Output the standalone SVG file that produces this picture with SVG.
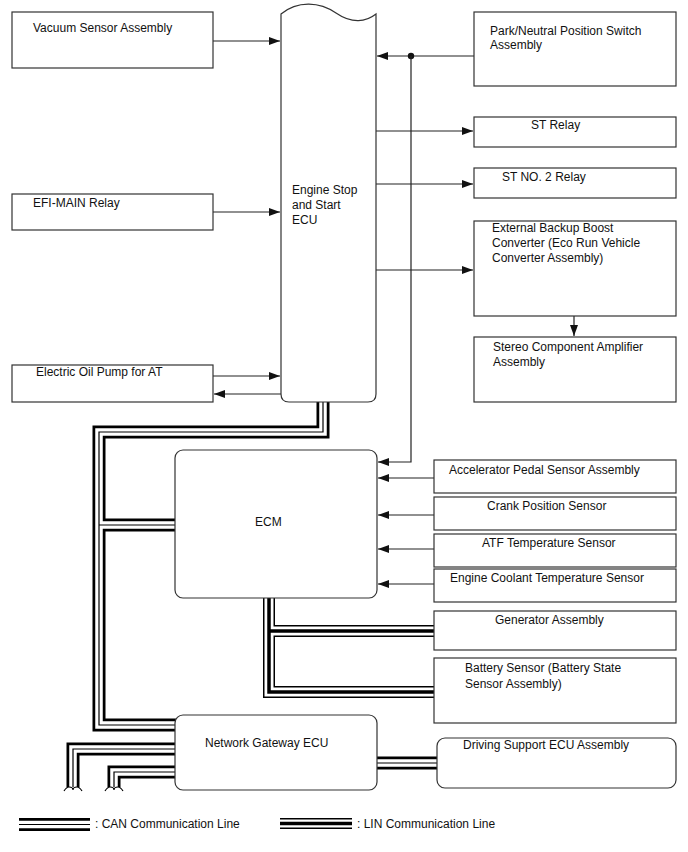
<svg xmlns="http://www.w3.org/2000/svg" width="688" height="852" viewBox="0 0 688 852">
<style>
text{font-family:"Liberation Sans",Arial,sans-serif;font-size:12px;fill:#111}
.box{fill:#fff;stroke:#333;stroke-width:1.2}
.ln{fill:none;stroke:#222;stroke-width:1.2}
.can-o{fill:none;stroke:#000;stroke-width:13}
.can-w{fill:none;stroke:#fff;stroke-width:7.5}
.can-c{fill:none;stroke:#000;stroke-width:1.2}
.lin-o{fill:none;stroke:#000;stroke-width:12}
.lin-w{fill:none;stroke:#fff;stroke-width:9}
.lin-c{fill:none;stroke:#000;stroke-width:3.5}
.brk{fill:none;stroke:#000;stroke-width:1.2}
</style>
<defs>
<marker id="ah" markerUnits="userSpaceOnUse" markerWidth="11" markerHeight="8" refX="11" refY="4" orient="auto">
<path d="M0,0 L11,4 L0,8 z" fill="#111"/>
</marker>
</defs>

<g id="connectors">
<line class="ln" x1="213" y1="41" x2="280" y2="41" marker-end="url(#ah)"/>
<line class="ln" x1="213" y1="212" x2="280" y2="212" marker-end="url(#ah)"/>
<line class="ln" x1="213" y1="376" x2="280" y2="376" marker-end="url(#ah)"/>
<line class="ln" x1="281" y1="394" x2="214" y2="394" marker-end="url(#ah)"/>
<line class="ln" x1="474" y1="56" x2="377" y2="56" marker-end="url(#ah)"/>
<circle cx="411" cy="56" r="3.2" fill="#111"/>
<polyline class="ln" points="411,56 411,462 378,462" marker-end="url(#ah)"/>
<line class="ln" x1="376" y1="131" x2="473" y2="131" marker-end="url(#ah)"/>
<line class="ln" x1="376" y1="184" x2="473" y2="184" marker-end="url(#ah)"/>
<line class="ln" x1="376" y1="270" x2="473" y2="270" marker-end="url(#ah)"/>
<line class="ln" x1="574" y1="316" x2="574" y2="336" marker-end="url(#ah)"/>
<line class="ln" x1="434" y1="478" x2="378" y2="478" marker-end="url(#ah)"/>
<line class="ln" x1="434" y1="515" x2="378" y2="515" marker-end="url(#ah)"/>
<line class="ln" x1="434" y1="549" x2="378" y2="549" marker-end="url(#ah)"/>
<line class="ln" x1="434" y1="584" x2="378" y2="584" marker-end="url(#ah)"/>

<g id="can-lines">
<path class="can-o" d="M323,402 V432 H99 V725 H176 M99,525 H176 M176,749 H73 V787 M176,772 H114 V787 M376,763 H438"/>
<path class="can-w" d="M323,402 V432 H99 V725 H176 M99,525 H176 M176,749 H73 V787 M176,772 H114 V787 M376,763 H438"/>
<path class="can-c" d="M323,402 V432 H99 V725 H176 M99,525 H176 M176,749 H73 V787 M176,772 H114 V787 M376,763 H438"/>
<path class="brk" d="M64,791 q2.5,-4 5,-4 q4,0 4,3 q0,-3 4,-3 q2.5,0 5,4 M105,791 q2.5,-4 5,-4 q4,0 4,3 q0,-3 4,-3 q2.5,0 5,4"/>
</g>
<g id="lin-lines">
<path class="lin-o" d="M269,597 V692 H435 M269,631 H435"/>
<path class="lin-w" d="M269,597 V692 H435 M269,631 H435"/>
<path class="lin-c" d="M269,597 V692 H435 M269,631 H435"/>
</g>
</g>

<g id="vacuum"><rect class="box" x="12" y="12" width="201" height="56"/><text x="33" y="32">Vacuum Sensor Assembly</text></g>
<g id="efi"><rect class="box" x="12" y="194" width="201" height="36"/><text x="33" y="207">EFI-MAIN Relay</text></g>
<g id="oilpump"><rect class="box" x="12" y="365" width="201" height="37"/><text x="36" y="376">Electric Oil Pump for AT</text></g>

<g id="ecu">
<path class="box" d="M281,14 C298,0 320,2 336,13 C352,24 366,22 376,14 V394 Q376,402 368,402 H289 Q281,402 281,394 Z"/>
<text x="292" y="194">Engine Stop</text><text x="292" y="209">and Start</text><text x="292" y="224">ECU</text>
</g>

<g id="park"><rect class="box" x="474" y="12" width="202" height="74"/><text x="490" y="35">Park/Neutral Position Switch</text><text x="490" y="49">Assembly</text></g>
<g id="strelay"><rect class="box" x="474" y="117" width="202" height="30"/><text x="531" y="129">ST Relay</text></g>
<g id="st2relay"><rect class="box" x="474" y="168" width="202" height="30"/><text x="502" y="181">ST NO. 2 Relay</text></g>
<g id="extboost"><rect class="box" x="474" y="221" width="202" height="95"/><text x="492" y="232">External Backup Boost</text><text x="492" y="247">Converter (Eco Run Vehicle</text><text x="492" y="262">Converter Assembly)</text></g>
<g id="stereo"><rect class="box" x="474" y="337" width="202" height="65"/><text x="493" y="351">Stereo Component Amplifier</text><text x="493" y="366">Assembly</text></g>

<g id="ecm"><rect class="box" x="175" y="450" width="202" height="148" rx="8"/><text x="255" y="526">ECM</text></g>

<g id="accel"><rect class="box" x="434" y="460" width="242" height="33"/><text x="449" y="474">Accelerator Pedal Sensor Assembly</text></g>
<g id="crank"><rect class="box" x="434" y="497" width="242" height="33"/><text x="487" y="510">Crank Position Sensor</text></g>
<g id="atf"><rect class="box" x="434" y="534" width="242" height="33"/><text x="482" y="547">ATF Temperature Sensor</text></g>
<g id="coolant"><rect class="box" x="434" y="569" width="242" height="33"/><text x="450" y="582">Engine Coolant Temperature Sensor</text></g>
<g id="generator"><rect class="box" x="434" y="611" width="242" height="39"/><text x="495" y="624">Generator Assembly</text></g>
<g id="battery"><rect class="box" x="434" y="658" width="242" height="65"/><text x="465" y="672">Battery Sensor (Battery State</text><text x="465" y="688">Sensor Assembly)</text></g>

<g id="gateway"><rect class="box" x="175" y="715" width="202" height="75" rx="8"/><text x="205" y="747">Network Gateway ECU</text></g>
<g id="drivesupport"><rect class="box" x="437" y="738" width="239" height="50" rx="8"/><text x="463" y="749">Driving Support ECU Assembly</text></g>

<g id="legend">
<path class="can-o" d="M19,824.5 H90"/><path class="can-w" d="M19,824.5 H90"/><path class="can-c" d="M19,824.5 H90"/>
<text x="95" y="828">: CAN Communication Line</text>
<path class="lin-o" d="M280,823.5 H352" style="stroke-width:11"/><path class="lin-w" d="M280,823.5 H352" style="stroke-width:8"/><path class="lin-c" d="M280,823.5 H352"/>
<text x="357" y="828">: LIN Communication Line</text>
</g>
</svg>
